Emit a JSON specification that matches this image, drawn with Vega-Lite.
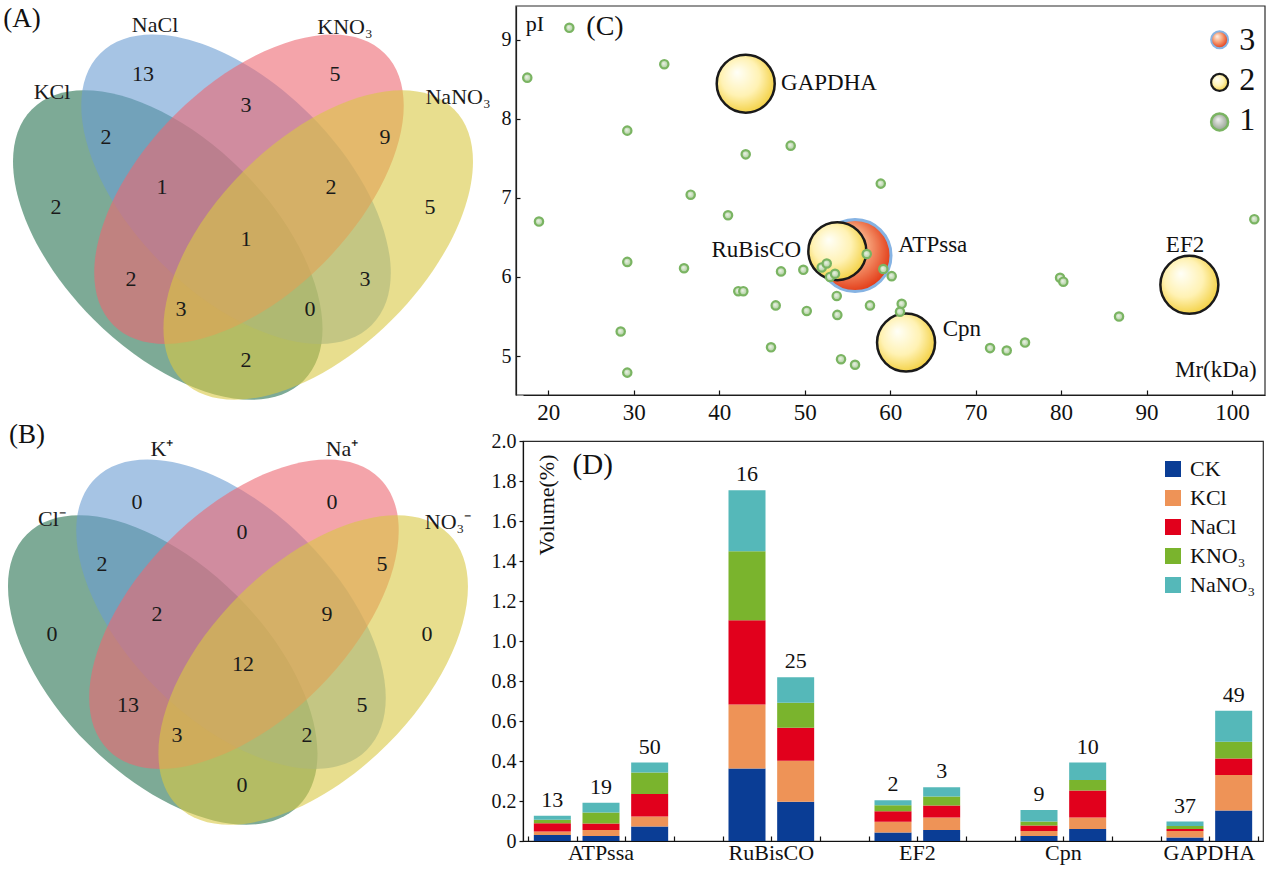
{
  "$schema": "https://vega.github.io/schema/vega-lite/v6.json",
  "padding": {"left": 0, "top": 4, "right": 0, "bottom": 0},
  "autosize": {"type": "pad"},
  "background": "white",
  "columns": 2,
  "align": "none",
  "bounds": "flush",
  "spacing": {"row": 46, "column": 16},
  "resolve": {"scale": {"color": "independent", "x": "independent", "y": "independent"}, "legend": {"color": "independent"}},
  "config": {
    "font": "Liberation Serif",
    "view": {"stroke": "#2b2b2b", "strokeWidth": 1.2},
    "axis": {"grid": false, "labelFont": "Liberation Serif", "labelColor": "#111", "domainColor": "#111", "tickColor": "#111", "domainWidth": 1.2, "tickWidth": 1.2, "labelOverlap": false}
  },
  "datasets": {
    "ellipses": [
      {"ellipse": "left", "cx": 0.3616, "cy": 0.4626, "tilt": 45},
      {"ellipse": "inner-left", "cx": 0.488, "cy": 0.566, "tilt": 45},
      {"ellipse": "inner-right", "cx": 0.512, "cy": 0.566, "tilt": -45},
      {"ellipse": "right", "cx": 0.6402, "cy": 0.4626, "tilt": -45}
    ],
    "vennLabels": [
      {"panel": "A", "label": "NaCl", "x": 0.338, "y": 0.87},
      {"panel": "A", "label": "KNO₃", "x": 0.6898, "y": 0.8663},
      {"panel": "A", "label": "KCl", "x": 0.1472, "y": 0.7459},
      {"panel": "A", "label": "NaNO₃", "x": 0.8991, "y": 0.7367},
      {"panel": "A", "label": "13", "x": 0.3157, "y": 0.7793},
      {"panel": "A", "label": "5", "x": 0.6713, "y": 0.7793},
      {"panel": "A", "label": "3", "x": 0.5065, "y": 0.7219},
      {"panel": "A", "label": "2", "x": 0.2472, "y": 0.6626},
      {"panel": "A", "label": "9", "x": 0.7639, "y": 0.6626},
      {"panel": "A", "label": "2", "x": 0.1546, "y": 0.533},
      {"panel": "A", "label": "1", "x": 0.3509, "y": 0.57},
      {"panel": "A", "label": "2", "x": 0.6639, "y": 0.57},
      {"panel": "A", "label": "5", "x": 0.8472, "y": 0.533},
      {"panel": "A", "label": "1", "x": 0.5065, "y": 0.4737},
      {"panel": "A", "label": "2", "x": 0.2935, "y": 0.3993},
      {"panel": "A", "label": "3", "x": 0.7269, "y": 0.3993},
      {"panel": "A", "label": "3", "x": 0.3861, "y": 0.3437},
      {"panel": "A", "label": "0", "x": 0.625, "y": 0.3437},
      {"panel": "A", "label": "2", "x": 0.5065, "y": 0.2493},
      {"panel": "B", "label": "K⁺", "x": 0.3602, "y": 0.8719},
      {"panel": "B", "label": "Na⁺", "x": 0.6935, "y": 0.8719},
      {"panel": "B", "label": "Cl⁻", "x": 0.1565, "y": 0.7422},
      {"panel": "B", "label": "NO₃⁻", "x": 0.8898, "y": 0.7367},
      {"panel": "B", "label": "0", "x": 0.3139, "y": 0.7737},
      {"panel": "B", "label": "0", "x": 0.675, "y": 0.7737},
      {"panel": "B", "label": "0", "x": 0.5083, "y": 0.7181},
      {"panel": "B", "label": "2", "x": 0.2491, "y": 0.6589},
      {"panel": "B", "label": "5", "x": 0.7676, "y": 0.6589},
      {"panel": "B", "label": "0", "x": 0.1565, "y": 0.5293},
      {"panel": "B", "label": "2", "x": 0.3509, "y": 0.5663},
      {"panel": "B", "label": "9", "x": 0.6657, "y": 0.5663},
      {"panel": "B", "label": "0", "x": 0.8509, "y": 0.5293},
      {"panel": "B", "label": "12", "x": 0.5102, "y": 0.4737},
      {"panel": "B", "label": "13", "x": 0.2972, "y": 0.3978},
      {"panel": "B", "label": "5", "x": 0.7306, "y": 0.3978},
      {"panel": "B", "label": "3", "x": 0.388, "y": 0.3422},
      {"panel": "B", "label": "2", "x": 0.6287, "y": 0.3422},
      {"panel": "B", "label": "0", "x": 0.5083, "y": 0.2496}
    ],
    "spots": [
      {"mr": 55.89, "pi": 6.27, "level": 3, "name": "ATPssa", "lmr": 60.95, "lpi": 6.405},
      {"mr": 43.1, "pi": 8.444, "level": 2, "name": "GAPDHA", "lmr": 47.23, "lpi": 8.453},
      {"mr": 53.82, "pi": 6.325, "level": 2, "name": "RuBisCO", "lmr": 49.57, "lpi": 6.341},
      {"mr": 61.86, "pi": 5.17, "level": 2, "name": "Cpn", "lmr": 66.15, "lpi": 5.343},
      {"mr": 95.01, "pi": 5.9, "level": 2, "name": "EF2", "lmr": 94.5, "lpi": 6.405},
      {"mr": 22.46, "pi": 9.15, "level": 1},
      {"mr": 17.54, "pi": 8.52, "level": 1},
      {"mr": 33.57, "pi": 8.69, "level": 1},
      {"mr": 29.24, "pi": 7.85, "level": 1},
      {"mr": 48.36, "pi": 7.66, "level": 1},
      {"mr": 43.1, "pi": 7.55, "level": 1},
      {"mr": 58.9, "pi": 7.18, "level": 1},
      {"mr": 36.66, "pi": 7.04, "level": 1},
      {"mr": 41.03, "pi": 6.78, "level": 1},
      {"mr": 18.91, "pi": 6.7, "level": 1},
      {"mr": 29.24, "pi": 6.19, "level": 1},
      {"mr": 35.88, "pi": 6.11, "level": 1},
      {"mr": 47.23, "pi": 6.07, "level": 1},
      {"mr": 49.84, "pi": 6.09, "level": 1},
      {"mr": 51.99, "pi": 6.12, "level": 1},
      {"mr": 52.58, "pi": 6.17, "level": 1},
      {"mr": 52.96, "pi": 6.0, "level": 1},
      {"mr": 53.55, "pi": 6.04, "level": 1},
      {"mr": 57.26, "pi": 6.29, "level": 1},
      {"mr": 59.2, "pi": 6.1, "level": 1},
      {"mr": 42.23, "pi": 5.82, "level": 1},
      {"mr": 42.82, "pi": 5.82, "level": 1},
      {"mr": 46.61, "pi": 5.64, "level": 1},
      {"mr": 50.24, "pi": 5.57, "level": 1},
      {"mr": 53.75, "pi": 5.76, "level": 1},
      {"mr": 53.82, "pi": 5.52, "level": 1},
      {"mr": 57.64, "pi": 5.64, "level": 1},
      {"mr": 28.47, "pi": 5.31, "level": 1},
      {"mr": 46.06, "pi": 5.11, "level": 1},
      {"mr": 54.25, "pi": 4.96, "level": 1},
      {"mr": 55.89, "pi": 4.89, "level": 1},
      {"mr": 29.24, "pi": 4.79, "level": 1},
      {"mr": 102.61, "pi": 6.73, "level": 1},
      {"mr": 60.18, "pi": 6.01, "level": 1},
      {"mr": 79.88, "pi": 5.99, "level": 1},
      {"mr": 80.26, "pi": 5.94, "level": 1},
      {"mr": 61.35, "pi": 5.66, "level": 1},
      {"mr": 61.15, "pi": 5.56, "level": 1},
      {"mr": 86.78, "pi": 5.5, "level": 1},
      {"mr": 71.69, "pi": 5.1, "level": 1},
      {"mr": 73.64, "pi": 5.07, "level": 1},
      {"mr": 75.78, "pi": 5.17, "level": 1}
    ],
    "volumes": [
      {"protein": "ATPssa", "spot": "13", "slot": 0.5, "CK": 0.03, "KCl": 0.017, "NaCl": 0.042, "KNO₃": 0.017, "NaNO₃": 0.02},
      {"protein": "ATPssa", "spot": "19", "slot": 1.5, "CK": 0.025, "KCl": 0.03, "NaCl": 0.033, "KNO₃": 0.055, "NaNO₃": 0.048},
      {"protein": "ATPssa", "spot": "50", "slot": 2.5, "CK": 0.072, "KCl": 0.05, "NaCl": 0.113, "KNO₃": 0.107, "NaNO₃": 0.05},
      {"protein": "RuBisCO", "spot": "16", "slot": 4.5, "CK": 0.363, "KCl": 0.32, "NaCl": 0.421, "KNO₃": 0.345, "NaNO₃": 0.305},
      {"protein": "RuBisCO", "spot": "25", "slot": 5.5, "CK": 0.196, "KCl": 0.205, "NaCl": 0.165, "KNO₃": 0.125, "NaNO₃": 0.128},
      {"protein": "EF2", "spot": "2", "slot": 7.5, "CK": 0.043, "KCl": 0.053, "NaCl": 0.053, "KNO₃": 0.03, "NaNO₃": 0.025},
      {"protein": "EF2", "spot": "3", "slot": 8.5, "CK": 0.055, "KCl": 0.062, "NaCl": 0.06, "KNO₃": 0.045, "NaNO₃": 0.047},
      {"protein": "Cpn", "spot": "9", "slot": 10.5, "CK": 0.025, "KCl": 0.025, "NaCl": 0.027, "KNO₃": 0.02, "NaNO₃": 0.058},
      {"protein": "Cpn", "spot": "10", "slot": 11.5, "CK": 0.06, "KCl": 0.057, "NaCl": 0.135, "KNO₃": 0.053, "NaNO₃": 0.087},
      {"protein": "GAPDHA", "spot": "37", "slot": 13.5, "CK": 0.017, "KCl": 0.033, "NaCl": 0.01, "KNO₃": 0.015, "NaNO₃": 0.022},
      {"protein": "GAPDHA", "spot": "49", "slot": 14.5, "CK": 0.152, "KCl": 0.178, "NaCl": 0.083, "KNO₃": 0.083, "NaNO₃": 0.155}
    ]
  },
  "concat": [
    {
      "width": 507,
      "height": 389,
      "view": {"stroke": null},
      "layer": [
        {
          "data": {"name": "ellipses"},
          "mark": {"type": "point", "filled": true, "opacity": 1, "fillOpacity": 0.6, "strokeWidth": 0, "size": 147456,
            "shape": "M -1 0 C -1 -0.302 -0.5523 -0.547 0 -0.547 C 0.5523 -0.547 1 -0.302 1 0 C 1 0.302 0.5523 0.547 0 0.547 C -0.5523 0.547 -1 0.302 -1 0 Z"},
          "encoding": {
            "x": {"field": "cx", "type": "quantitative", "scale": {"domain": [0.0509, 0.9898], "nice": false, "zero": false}, "axis": null},
            "y": {"field": "cy", "type": "quantitative", "scale": {"domain": [0.1848, 0.9052], "nice": false, "zero": false}, "axis": null},
            "angle": {"field": "tilt", "type": "quantitative", "scale": null},
            "color": {"field": "ellipse", "type": "nominal", "scale": {"domain": ["left", "inner-left", "inner-right", "right"], "range": ["#267150", "#6b9dd2", "#ec6771", "#d9c843"]}, "legend": null}
          }
        },
        {
          "data": {"name": "vennLabels"},
          "transform": [{"filter": "datum.panel === 'A'"}],
          "mark": {"type": "text", "fontSize": 22, "color": "#1a1a1a"},
          "encoding": {
            "x": {"field": "x", "type": "quantitative", "axis": null},
            "y": {"field": "y", "type": "quantitative", "axis": null},
            "text": {"field": "label"}
          }
        },
        {
          "data": {"values": [{}]},
          "mark": {"type": "text", "text": "(A)", "fontSize": 27, "color": "#111"},
          "encoding": {"x": {"datum": 0.0917, "axis": null}, "y": {"datum": 0.882, "axis": null}}
        }
      ]
    },
    {
      "width": 742,
      "height": 389,
      "view": {"stroke": null},
      "resolve": {"axis": {"x": "independent", "y": "independent"}},
      "layer": [
        {
          "data": {"name": "spots"},
          "transform": [{"filter": "datum.level === 3"}],
          "mark": {"type": "point", "filled": true, "opacity": 1, "size": 5184, "stroke": "#86b3e3", "strokeWidth": 3,
            "fill": {"gradient": "radial", "x1": 0.35, "y1": 0.3, "r1": 0, "x2": 0.45, "y2": 0.45, "r2": 0.6,
              "stops": [{"offset": 0, "color": "#fff3ea"}, {"offset": 0.45, "color": "#f7a57c"}, {"offset": 1, "color": "#e0300c"}]}},
          "encoding": {
            "x": {"field": "mr", "type": "quantitative", "scale": {"domain": [17.04, 103.86], "nice": false, "zero": false},
              "axis": {"title": null, "values": [20, 30, 40, 50, 60, 70, 80, 90, 100], "format": "d", "tickSize": -5, "labelPadding": 11, "labelFontSize": 23, "labelFlush": false, "labelOverlap": false}},
            "y": {"field": "pi", "type": "quantitative", "scale": {"domain": [4.507, 9.426], "nice": false, "zero": false},
              "axis": {"title": null, "values": [5, 6, 7, 8, 9], "format": "d", "tickSize": -4, "labelPadding": 9, "labelFontSize": 20, "offset": 7, "labelOverlap": false}}
          }
        },
        {
          "data": {"name": "spots"},
          "transform": [{"filter": "datum.level === 2"}],
          "mark": {"type": "point", "filled": true, "opacity": 1, "size": 3364, "stroke": "#1a1a1a", "strokeWidth": 2.5,
            "fill": {"gradient": "radial", "x1": 0.35, "y1": 0.3, "r1": 0, "x2": 0.45, "y2": 0.45, "r2": 0.6,
              "stops": [{"offset": 0, "color": "#fffff8"}, {"offset": 0.55, "color": "#fff2b4"}, {"offset": 1, "color": "#f2cd38"}]}},
          "encoding": {
            "x": {"field": "mr", "type": "quantitative", "axis": null},
            "y": {"field": "pi", "type": "quantitative", "axis": null}
          }
        },
        {
          "data": {"name": "spots"},
          "transform": [{"filter": "datum.level === 1"}],
          "mark": {"type": "point", "filled": true, "opacity": 1, "size": 70, "stroke": "#7ab462", "strokeWidth": 2.2,
            "fill": {"gradient": "radial", "x1": 0.4, "y1": 0.4, "r1": 0, "x2": 0.5, "y2": 0.5, "r2": 0.5,
              "stops": [{"offset": 0, "color": "#eef3ea"}, {"offset": 1, "color": "#a8cc96"}]}},
          "encoding": {
            "x": {"field": "mr", "type": "quantitative", "axis": null},
            "y": {"field": "pi", "type": "quantitative", "axis": null}
          }
        },
        {
          "data": {"name": "spots"},
          "transform": [{"filter": "isValid(datum.name)"}],
          "mark": {"type": "text", "fontSize": 23, "color": "#111", "baseline": "middle",
            "align": {"expr": "datum.name === 'RuBisCO' ? 'right' : datum.name === 'EF2' ? 'center' : 'left'"}},
          "encoding": {
            "x": {"field": "lmr", "type": "quantitative", "axis": null},
            "y": {"field": "lpi", "type": "quantitative", "axis": null},
            "text": {"field": "name"}
          }
        },
        {
          "data": {"values": [{}]},
          "mark": {"type": "point", "filled": true, "opacity": 1, "size": 289, "stroke": "#86b3e3", "strokeWidth": 2,
            "fill": {"gradient": "radial", "x1": 0.35, "y1": 0.3, "r1": 0, "x2": 0.45, "y2": 0.45, "r2": 0.6,
              "stops": [{"offset": 0, "color": "#fff3ea"}, {"offset": 0.45, "color": "#f7a57c"}, {"offset": 1, "color": "#e0300c"}]}},
          "encoding": {"x": {"datum": 98.55, "axis": null}, "y": {"datum": 9.0, "axis": null}}
        },
        {
          "data": {"values": [{}]},
          "mark": {"type": "point", "filled": true, "opacity": 1, "size": 289, "stroke": "#1a1a1a", "strokeWidth": 2.2,
            "fill": {"gradient": "radial", "x1": 0.35, "y1": 0.3, "r1": 0, "x2": 0.45, "y2": 0.45, "r2": 0.6,
              "stops": [{"offset": 0, "color": "#fffff8"}, {"offset": 0.55, "color": "#fff2b4"}, {"offset": 1, "color": "#f2cd38"}]}},
          "encoding": {"x": {"datum": 98.55, "axis": null}, "y": {"datum": 8.46, "axis": null}}
        },
        {
          "data": {"values": [{}]},
          "mark": {"type": "point", "filled": true, "opacity": 1, "size": 289, "stroke": "#7ab462", "strokeWidth": 2.5,
            "fill": {"gradient": "radial", "x1": 0.4, "y1": 0.35, "r1": 0, "x2": 0.5, "y2": 0.5, "r2": 0.55,
              "stops": [{"offset": 0, "color": "#f2f2f2"}, {"offset": 1, "color": "#8f9c8a"}]}},
          "encoding": {"x": {"datum": 98.55, "axis": null}, "y": {"datum": 7.96, "axis": null}}
        },
        {
          "data": {"values": [{"lab": "3", "ly": 9.0}, {"lab": "2", "ly": 8.49}, {"lab": "1", "ly": 7.98}]},
          "mark": {"type": "text", "fontSize": 32, "align": "left", "baseline": "middle", "color": "#111"},
          "encoding": {"x": {"datum": 100.86, "axis": null}, "y": {"field": "ly", "type": "quantitative", "axis": null}, "text": {"field": "lab"}}
        },
        {
          "data": {"values": [{}]},
          "mark": {"type": "text", "text": "(C)", "fontSize": 28, "color": "#111", "baseline": "middle"},
          "encoding": {"x": {"datum": 26.63, "axis": null}, "y": {"datum": 9.16, "axis": null}}
        },
        {
          "data": {"values": [{}]},
          "mark": {"type": "text", "text": "pI", "fontSize": 22, "color": "#111", "baseline": "middle"},
          "encoding": {"x": {"datum": 18.44, "axis": null}, "y": {"datum": 9.2, "axis": null}}
        },
        {
          "data": {"values": [{}]},
          "mark": {"type": "text", "text": "Mr(kDa)", "fontSize": 23, "color": "#111", "align": "right", "baseline": "middle"},
          "encoding": {"x": {"datum": 102.89, "axis": null}, "y": {"datum": 4.82, "axis": null}}
        },
        {
          "data": {"values": [{}]},
          "mark": {"type": "rect", "fillOpacity": 0, "stroke": "#2b2b2b", "strokeWidth": 1.2},
          "encoding": {
            "x": {"datum": 16.22, "axis": null}, "x2": {"datum": 103.86},
            "y": {"datum": 4.507, "axis": null}, "y2": {"datum": 9.426}
          }
        }
      ]
    },
    {
      "width": 507,
      "height": 400,
      "view": {"stroke": null},
      "layer": [
        {
          "data": {"name": "ellipses"},
          "mark": {"type": "point", "filled": true, "opacity": 1, "fillOpacity": 0.6, "strokeWidth": 0, "size": 147456,
            "shape": "M -1 0 C -1 -0.302 -0.5523 -0.547 0 -0.547 C 0.5523 -0.547 1 -0.302 1 0 C 1 0.302 0.5523 0.547 0 0.547 C -0.5523 0.547 -1 0.302 -1 0 Z"},
          "encoding": {
            "x": {"field": "cx", "type": "quantitative", "scale": {"domain": [0.0602, 0.9991], "nice": false, "zero": false}, "axis": null},
            "y": {"field": "cy", "type": "quantitative", "scale": {"domain": [0.1459, 0.8867], "nice": false, "zero": false}, "axis": null},
            "angle": {"field": "tilt", "type": "quantitative", "scale": null},
            "color": {"field": "ellipse", "type": "nominal", "scale": {"domain": ["left", "inner-left", "inner-right", "right"], "range": ["#267150", "#6b9dd2", "#ec6771", "#d9c843"]}, "legend": null}
          }
        },
        {
          "data": {"name": "vennLabels"},
          "transform": [{"filter": "datum.panel === 'B'"}],
          "mark": {"type": "text", "fontSize": 22, "color": "#1a1a1a"},
          "encoding": {
            "x": {"field": "x", "type": "quantitative", "axis": null},
            "y": {"field": "y", "type": "quantitative", "axis": null},
            "text": {"field": "label"}
          }
        },
        {
          "data": {"values": [{}]},
          "mark": {"type": "text", "text": "(B)", "fontSize": 27, "color": "#111"},
          "encoding": {"x": {"datum": 0.1102, "axis": null}, "y": {"datum": 0.8978, "axis": null}}
        }
      ]
    },
    {
      "width": 740,
      "height": 400,
      "resolve": {"axis": {"x": "independent", "y": "independent"}},
      "data": {"name": "volumes"},
      "transform": [{"fold": ["CK", "KCl", "NaCl", "KNO₃", "NaNO₃"], "as": ["treatment", "volume"]}],
      "layer": [
        {
          "transform": [{"calculate": "indexof(['CK','KCl','NaCl','KNO₃','NaNO₃'], datum.treatment)", "as": "k"}],
          "mark": {"type": "bar", "width": 37, "orient": "vertical"},
          "encoding": {
            "x": {"field": "slot", "type": "quantitative", "scale": {"domain": [0, 15], "nice": false, "zero": false},
              "axis": {"title": null, "values": [0, 1, 2, 3, 4, 5, 6, 7, 8, 9, 10, 11, 12, 13, 14, 15], "labels": false, "tickSize": -5}},
            "y": {"field": "volume", "type": "quantitative", "stack": "zero", "scale": {"domain": [0, 2], "nice": false},
              "axis": {"title": null, "values": [0, 0.2, 0.4, 0.6, 0.8, 1.0, 1.2, 1.4, 1.6, 1.8, 2.0], "tickSize": 4, "labelPadding": 3, "labelFontSize": 20, "labelFlush": false,
                "labelExpr": "datum.value === 0 ? '0' : format(datum.value, '.1f')"}},
            "color": {"field": "treatment", "type": "nominal",
              "scale": {"domain": ["CK", "KCl", "NaCl", "KNO₃", "NaNO₃"], "range": ["#0a3d95", "#ee9357", "#e1001c", "#7ab42d", "#55b8b9"]},
              "legend": {"title": null, "orient": "none", "legendX": 639, "legendY": 17, "symbolType": "square", "symbolSize": 256, "symbolStrokeWidth": 0,
                "labelFontSize": 22, "labelFont": "Liberation Serif", "labelColor": "#111", "rowPadding": 7, "labelOffset": 6, "padding": 0}},
            "order": {"field": "k", "type": "quantitative"}
          }
        },
        {
          "transform": [{"aggregate": [{"op": "sum", "field": "volume", "as": "total"}], "groupby": ["slot", "spot"]}],
          "mark": {"type": "text", "fontSize": 22, "baseline": "alphabetic", "dy": -9, "color": "#111"},
          "encoding": {
            "x": {"field": "slot", "type": "quantitative", "axis": null},
            "y": {"field": "total", "type": "quantitative", "axis": null},
            "text": {"field": "spot"}
          }
        },
        {
          "transform": [{"aggregate": [{"op": "mean", "field": "slot", "as": "center"}], "groupby": ["protein"]}],
          "mark": {"type": "text", "fontSize": 22, "baseline": "middle", "color": "#111"},
          "encoding": {
            "x": {"field": "center", "type": "quantitative", "axis": null},
            "y": {"datum": -0.06, "axis": null},
            "text": {"field": "protein"}
          }
        },
        {
          "data": {"values": [{}]},
          "mark": {"type": "text", "text": "Volume(%)", "angle": 270, "fontSize": 22, "color": "#111", "baseline": "middle"},
          "encoding": {"x": {"datum": 0.4, "axis": null}, "y": {"datum": 1.68, "axis": null}}
        },
        {
          "data": {"values": [{}]},
          "mark": {"type": "text", "text": "(D)", "fontSize": 29, "color": "#111", "baseline": "middle"},
          "encoding": {"x": {"datum": 1.33, "axis": null}, "y": {"datum": 1.878, "axis": null}}
        }
      ]
    }
  ]
}
